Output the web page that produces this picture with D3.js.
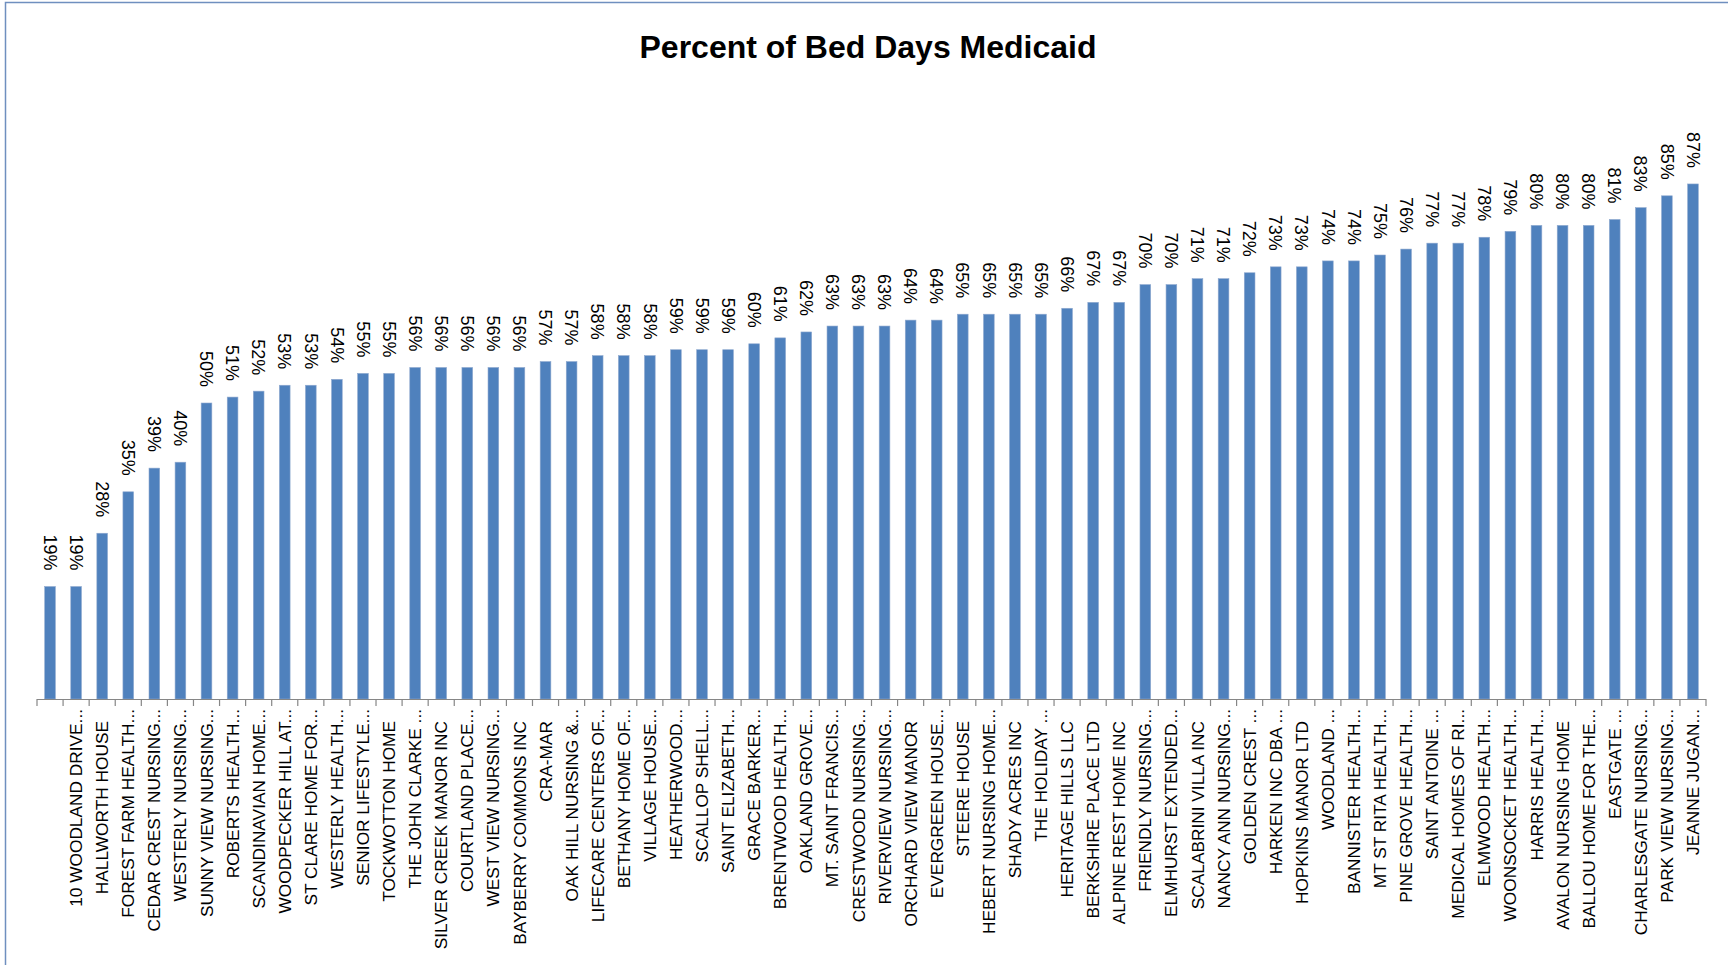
<!DOCTYPE html>
<html lang="en">
<head>
<meta charset="UTF-8">
<title>Percent of Bed Days Medicaid</title>
<script src="https://d3js.org/d3.v7.min.js"></script>
<style>
  body {
    margin: 0;
    padding: 0;
    background-color: #ffffff;
    font-family: "Liberation Sans", Arial, sans-serif;
  }
  svg { display: block; }
  .title { font-size: 32px; font-weight: bold; }
  .value-label { font-size: 18px; fill: #000; }
  .cat-label { font-size: 17.3px; fill: #000; }
</style>
</head>
<body>
<div id="chart"></div>
<script>
  // facility names (first bar has no name)
  const categories = [
    "", "10 WOODLAND DRIVE...", "HALLWORTH HOUSE", "FOREST FARM HEALTH...",
    "CEDAR CREST NURSING...", "WESTERLY NURSING...", "SUNNY VIEW NURSING...",
    "ROBERTS HEALTH...", "SCANDINAVIAN HOME...", "WOODPECKER HILL AT...",
    "ST CLARE HOME FOR...", "WESTERLY HEALTH...", "SENIOR LIFESTYLE...",
    "TOCKWOTTON HOME", "THE JOHN CLARKE ...", "SILVER CREEK MANOR INC",
    "COURTLAND PLACE...", "WEST VIEW NURSING...", "BAYBERRY COMMONS INC",
    "CRA-MAR", "OAK HILL NURSING &...", "LIFECARE CENTERS OF...",
    "BETHANY HOME OF...", "VILLAGE HOUSE...", "HEATHERWOOD...",
    "SCALLOP SHELL...", "SAINT ELIZABETH...", "GRACE BARKER...",
    "BRENTWOOD HEALTH...", "OAKLAND GROVE...", "MT. SAINT FRANCIS...",
    "CRESTWOOD NURSING...", "RIVERVIEW NURSING...", "ORCHARD VIEW MANOR",
    "EVERGREEN HOUSE...", "STEERE HOUSE", "HEBERT NURSING HOME...",
    "SHADY ACRES INC", "THE HOLIDAY ...", "HERITAGE HILLS LLC",
    "BERKSHIRE PLACE LTD", "ALPINE REST HOME INC", "FRIENDLY NURSING...",
    "ELMHURST EXTENDED...", "SCALABRINI VILLA INC", "NANCY ANN NURSING...",
    "GOLDEN CREST ...", "HARKEN INC DBA ...", "HOPKINS MANOR LTD",
    "WOODLAND ...", "BANNISTER HEALTH...", "MT ST RITA HEALTH...",
    "PINE GROVE HEALTH...", "SAINT ANTOINE ...", "MEDICAL HOMES OF RI...",
    "ELMWOOD HEALTH...", "WOONSOCKET HEALTH...", "HARRIS HEALTH...",
    "AVALON NURSING HOME", "BALLOU HOME FOR THE...", "EASTGATE ...",
    "CHARLESGATE NURSING...", "PARK VIEW NURSING...", "JEANNE JUGAN..."
  ];

  // percent of bed days paid by Medicaid
  const values = [
    0.19, 0.19, 0.28, 0.35, 0.39, 0.40, 0.50, 0.51, 0.52, 0.53, 0.53,
    0.54, 0.55, 0.55, 0.56, 0.56, 0.56, 0.56, 0.56, 0.57, 0.57, 0.58,
    0.58, 0.58, 0.59, 0.59, 0.59, 0.60, 0.61, 0.62, 0.63, 0.63, 0.63,
    0.64, 0.64, 0.65, 0.65, 0.65, 0.65, 0.66, 0.67, 0.67, 0.70, 0.70,
    0.71, 0.71, 0.72, 0.73, 0.73, 0.74, 0.74, 0.75, 0.76, 0.77, 0.77,
    0.78, 0.79, 0.80, 0.80, 0.80, 0.81, 0.83, 0.85, 0.87
  ];

  const titleText = "Percent of Bed Days Medicaid";

  const data = categories.map((c, i) => ({ key: i, name: c, value: values[i] }));

  const width = 1728, height = 965;
  const left = 37, right = 1706, axisY = 699, plotTop = 107;
  const pad = 0.59;

  const svg = d3.select("#chart").append("svg")
      .attr("width", width)
      .attr("height", height);

  svg.append("rect")
      .attr("width", width)
      .attr("height", height)
      .attr("fill", "#fff");

  // chart frame (only left and top edges show in the picture)
  svg.append("path")
      .attr("d", `M5.5,${height + 5} V2.5 H${width + 5}`)
      .attr("fill", "none")
      .attr("stroke", "#6f8fbf")
      .attr("stroke-width", 1.5);

  const x = d3.scaleBand()
      .domain(data.map(d => d.key))
      .range([left, right])
      .paddingInner(pad)
      .paddingOuter(pad / 2);

  const y = d3.scaleLinear()
      .domain([0, 1])
      .range([axisY, plotTop]);

  svg.append("text")
      .attr("class", "title")
      .attr("x", 868)
      .attr("y", 58)
      .attr("text-anchor", "middle")
      .text(titleText);

  // bars
  svg.append("g").selectAll("rect")
      .data(data)
      .join("rect")
      .attr("x", d => x(d.key))
      .attr("y", d => y(d.value))
      .attr("width", x.bandwidth())
      .attr("height", d => y(0) - y(d.value))
      .attr("fill", "#4f81bd")
      .attr("stroke", "#8fa9cf")
      .attr("stroke-width", 0.6);

  // value labels, rotated to read top to bottom
  const fmt = d3.format(".0%");
  svg.append("g").selectAll("text")
      .data(data)
      .join("text")
      .attr("class", "value-label")
      .attr("transform", d => `translate(${x(d.key) + x.bandwidth() / 2},${y(d.value) - 16}) rotate(90)`)
      .attr("text-anchor", "end")
      .attr("dy", "0.35em")
      .text(d => fmt(d.value));

  // category axis
  const xAxis = d3.axisBottom(x)
      .tickSize(0)
      .tickFormat(k => categories[k]);

  const gx = svg.append("g")
      .attr("transform", `translate(0,${axisY})`)
      .call(xAxis);

  gx.select(".domain").remove();
  gx.selectAll("text")
      .attr("class", "cat-label")
      .attr("font-family", null)
      .attr("font-size", null)
      .attr("fill", null)
      .attr("transform", "rotate(-90)")
      .attr("text-anchor", "end")
      .attr("x", k => categories[k].endsWith("...") ? -10 : -22)
      .attr("y", 0)
      .attr("dy", "0.35em");

  // axis line and tick marks between bands
  const step = x.step();
  const bounds = d3.range(data.length + 1).map(i => left + i * step);
  svg.append("line")
      .attr("x1", left).attr("x2", right)
      .attr("y1", axisY + 0.5).attr("y2", axisY + 0.5)
      .attr("stroke", "#868686")
      .attr("stroke-width", 1.2);
  svg.append("g").selectAll("line")
      .data(bounds)
      .join("line")
      .attr("x1", d => d).attr("x2", d => d)
      .attr("y1", axisY).attr("y2", axisY + 7)
      .attr("stroke", "#868686")
      .attr("stroke-width", 1.2);
</script>
</body>
</html>
